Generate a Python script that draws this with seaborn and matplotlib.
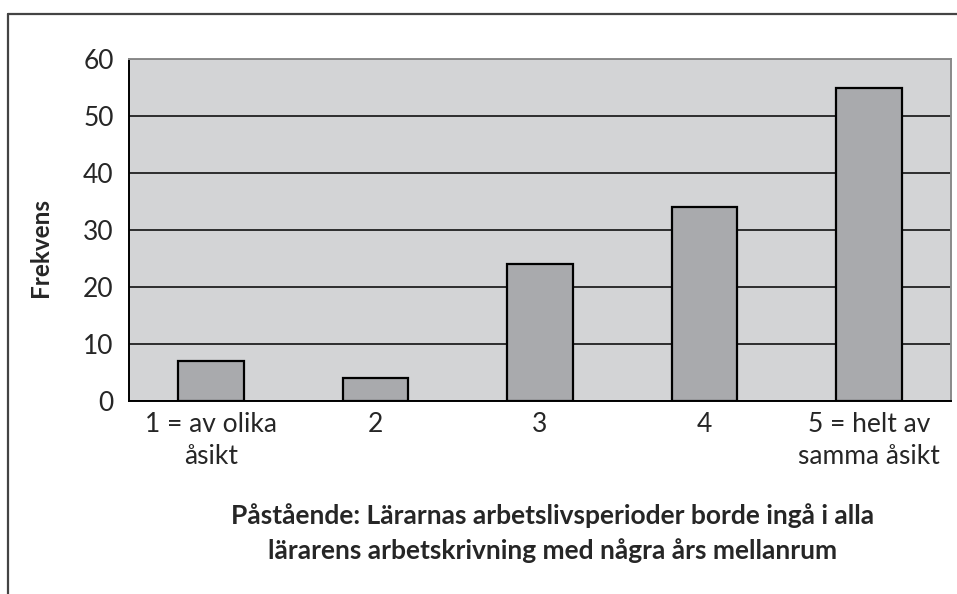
import numpy as np
import matplotlib
matplotlib.use("Agg")
import matplotlib.pyplot as plt
import seaborn as sns
from matplotlib.lines import Line2D

categories = ["1 = av olika\nåsikt", "2", "3", "4", "5 = helt av\nsamma åsikt"]
frekvens = [7, 4, 24, 34, 55]
y_ticks = [0, 10, 20, 30, 40, 50, 60]

sns.set_style("white")
plt.rcParams['font.family'] = ['Lato', 'DejaVu Sans']

fig = plt.figure(figsize=(9.57, 5.94), dpi=100)
ax = fig.add_axes([129 / 957, 1 - 401 / 594, (951 - 129) / 957, (401 - 59) / 594])

ax.set_facecolor("#d3d4d6")
sns.barplot(x=categories, y=frekvens, color="#a9aaad", edgecolor="black",
            linewidth=1.6, width=0.4, saturation=1, ax=ax)

ax.set_xlim(-0.5, 4.5)
ax.set_ylim(0, 60)
ax.set_yticks(y_ticks)
ax.yaxis.grid(True, color="black", linewidth=1.1)
ax.set_axisbelow(True)

# ticks between categories
ax.set_xticks(np.arange(len(categories)))
ax.set_xticklabels(categories, fontsize=19, linespacing=1.32)
ax.set_xticks(np.arange(-0.5, len(categories)), minor=True)
ax.tick_params(axis="x", which="major", length=0, pad=8)
ax.tick_params(axis="x", which="minor", length=8, width=1.3, color="black", direction="out")
ax.tick_params(axis="y", length=7, width=1.3, color="black", direction="out", labelsize=19, pad=4)

for s in ["left", "bottom"]:
    ax.spines[s].set_color("black")
    ax.spines[s].set_linewidth(1.4)
for s in ["top", "right"]:
    ax.spines[s].set_color("#8a8a8a")
    ax.spines[s].set_linewidth(1.4)

ax.set_ylabel("Frekvens", fontsize=17.5, fontweight="bold")
ax.yaxis.set_label_coords(-0.094, 0.45)
ax.set_xlabel("Påstående: Lärarnas arbetslivsperioder borde ingå i alla\n"
              "lärarens arbetskrivning med några års mellanrum",
              fontsize=19, fontweight="bold", linespacing=1.45)
ax.xaxis.set_label_coords(0.515, -0.30)

# outer frame (clipped at right and bottom)
fig.add_artist(Line2D([8 / 957, 8 / 957], [0, 1 - 14 / 594], color="#444444", lw=1.6))
fig.add_artist(Line2D([8 / 957, 1], [1 - 14 / 594, 1 - 14 / 594], color="#444444", lw=1.6))

fig.savefig("out.png", dpi=100)
